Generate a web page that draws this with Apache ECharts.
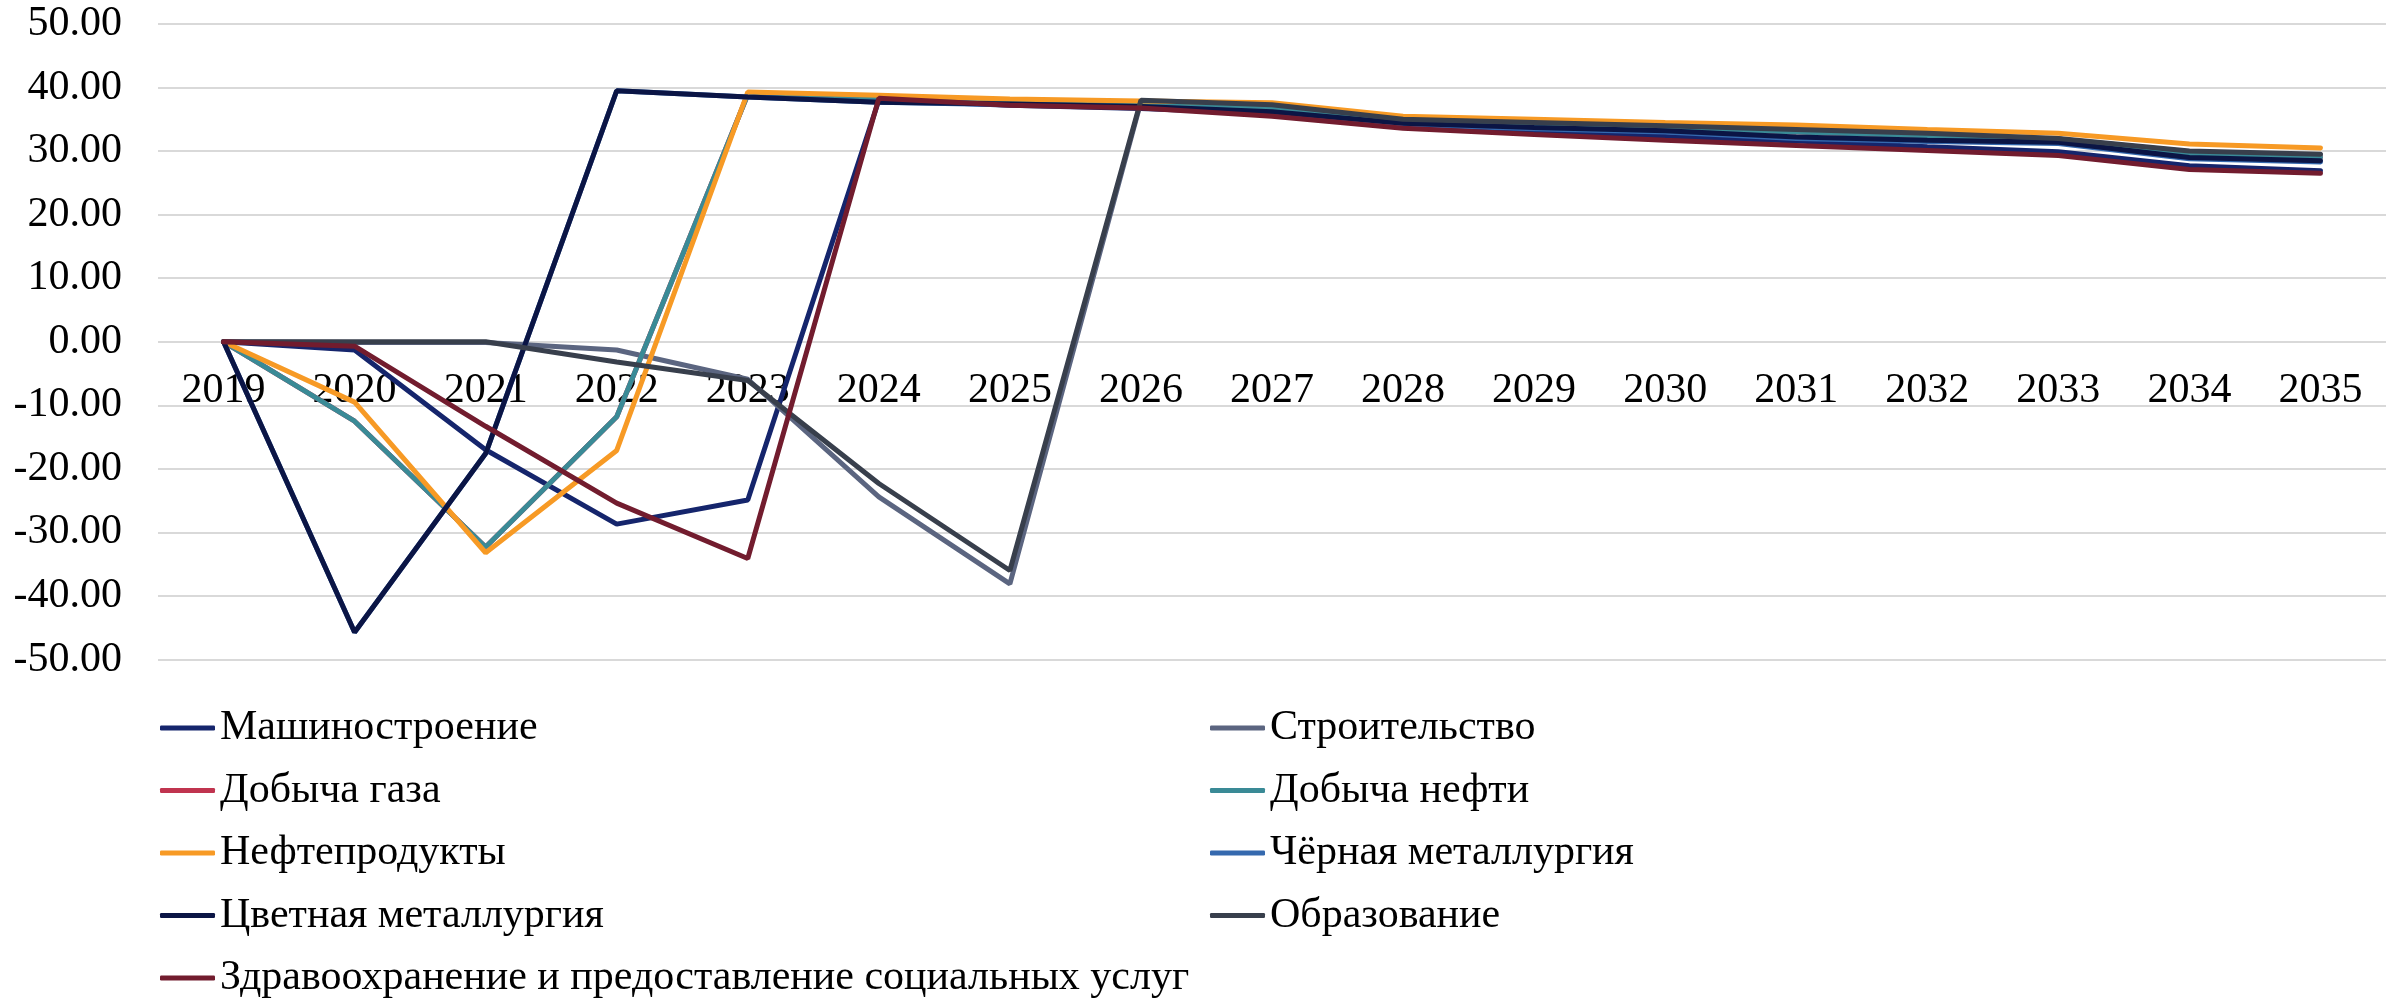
<!DOCTYPE html>
<html>
<head>
<meta charset="utf-8">
<script src="https://cdn.jsdelivr.net/npm/echarts@6/dist/echarts.min.js"></script>
<style>
html,body{margin:0;padding:0;background:#fff;}
#chart{width:2399px;height:1003px;}
</style>
</head>
<body>
<div id="chart"></div>
<script>
const years = ['2019','2020','2021','2022','2023','2024','2025','2026','2027','2028','2029','2030','2031','2032','2033','2034','2035'];

const mashinostroenie = [0, -1.3, -17.0, -28.7, -24.9, 38.0, 37.2, 36.7, 35.9, 33.9, 33.0, 32.3, 31.6, 30.7, 29.9, 27.7, 26.9];
const stroitelstvo    = [0, -0.1, -0.1, -1.3, -5.9, -24.4, -38.1, 37.8, 37.2, 34.9, 34.4, 33.9, 33.3, 32.7, 31.9, 29.9, 29.4];
const dobychaGaza     = [0, -12.5, -32.3, -11.8, 38.9, 38.4, 37.9, 37.5, 36.6, 34.8, 34.2, 33.7, 33.0, 32.4, 31.9, 29.5, 29.0];
const dobychaNefti    = [0, -12.5, -32.3, -11.8, 38.9, 38.4, 37.9, 37.5, 36.6, 34.8, 34.2, 33.7, 33.0, 32.4, 31.9, 29.5, 29.0];
const nefteprodukty   = [0, -9.5, -33.2, -17.1, 39.3, 38.8, 38.2, 37.9, 37.6, 35.5, 35.0, 34.5, 34.1, 33.4, 32.8, 31.1, 30.5];
const chernayaMet     = [0, -45.7, -17.6, 39.5, 38.5, 37.7, 37.3, 36.9, 36.1, 34.2, 33.5, 33.0, 32.0, 31.5, 31.2, 28.8, 28.3];
const tsvetnayaMet    = [0, -45.7, -17.6, 39.5, 38.5, 37.7, 37.4, 37.0, 36.2, 34.4, 33.7, 33.2, 32.2, 31.7, 31.4, 29.0, 28.5];
const obrazovanie     = [0, 0, 0, -3.2, -6.1, -22.3, -36.0, 38.0, 37.3, 35.0, 34.5, 34.0, 33.4, 32.8, 32.0, 30.0, 29.5];
const zdravoohranenie = [0, -0.7, -13.3, -25.4, -34.1, 38.3, 37.2, 36.8, 35.5, 33.6, 32.6, 31.7, 30.9, 30.1, 29.3, 27.1, 26.5];

const seriesNames = ['Машиностроение','Строительство','Добыча газа','Добыча нефти','Нефтепродукты','Чёрная металлургия','Цветная металлургия','Образование','Здравоохранение и предоставление социальных услуг'];
const seriesData = [mashinostroenie, stroitelstvo, dobychaGaza, dobychaNefti, nefteprodukty, chernayaMet, tsvetnayaMet, obrazovanie, zdravoohranenie];
const seriesColors = ['#15256c','#5b6580','#c0344f','#3a8a96','#f79a25','#3569ae','#0b1545','#383f4c','#721c2e'];

const yMin = -50, yMax = 50, yStep = 10;

const FONT = '"Liberation Serif", "Times New Roman", serif';

const GRID_TOP = 24, GRID_BOTTOM = 343.5, H = 1003;
// shift category axis from grid bottom up to the value 0 line
const plotH = H - GRID_TOP - GRID_BOTTOM;
const zeroShift = plotH * (0 - yMin) / (yMax - yMin);

const chart = echarts.init(document.getElementById('chart'));
const legendText = {fontFamily: FONT, fontSize: 42, color: '#000', lineHeight: 42};
chart.setOption({
  animation: false,
  backgroundColor: '#fff',
  grid: {left: 158, right: 13, top: GRID_TOP, bottom: GRID_BOTTOM, containLabel: false},
  legend: [
    {
      data: [seriesNames[0], seriesNames[2], seriesNames[4], seriesNames[6], seriesNames[8]],
      orient: 'vertical', left: 160, top: 707, padding: 0,
      itemWidth: 55, itemHeight: 5, itemGap: 20.5, icon: 'roundRect',
      textStyle: legendText
    },
    {
      data: [seriesNames[1], seriesNames[3], seriesNames[5], seriesNames[7]],
      orient: 'vertical', left: 1210, top: 707, padding: 0,
      itemWidth: 55, itemHeight: 5, itemGap: 20.5, icon: 'roundRect',
      textStyle: legendText
    }
  ],
  xAxis: {
    type: 'category',
    data: years,
    boundaryGap: true,
    offset: -zeroShift,
    axisLine: {show: false, onZero: false},
    axisTick: {show: false},
    axisLabel: {fontFamily: FONT, fontSize: 42, color: '#000', margin: 28, interval: 0},
    splitLine: {show: false}
  },
  yAxis: {
    type: 'value',
    min: yMin, max: yMax, interval: yStep,
    axisLine: {show: false},
    axisTick: {show: false},
    axisLabel: {fontFamily: FONT, fontSize: 42, color: '#000', margin: 36,
      formatter: v => v.toFixed(2)},
    splitLine: {show: true, lineStyle: {color: '#d9d9d9', width: 2}}
  },
  series: seriesNames.map((n, i) => ({
    name: n,
    type: 'line',
    data: seriesData[i],
    showSymbol: false,
    symbol: 'none',
    color: seriesColors[i],
    lineStyle: {width: 5, color: seriesColors[i], cap: 'round'},
    itemStyle: {color: seriesColors[i]}
  }))
});
</script>
</body>
</html>
